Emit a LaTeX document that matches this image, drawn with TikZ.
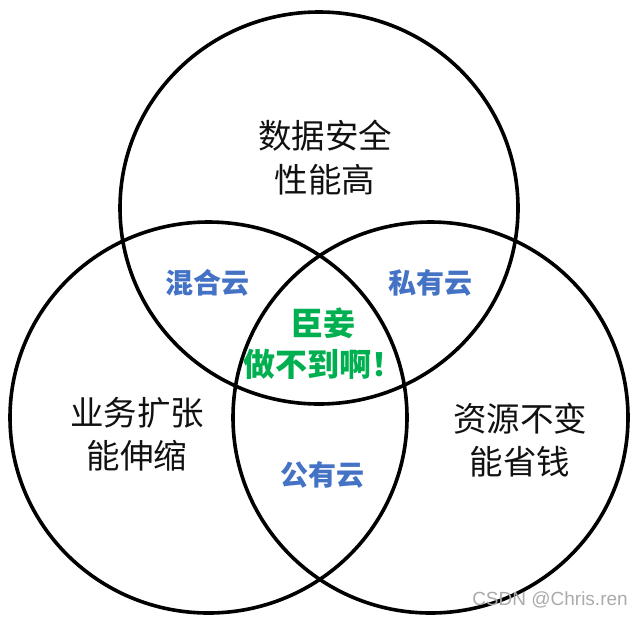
\documentclass[tikz,border=0pt]{standalone}
\usepackage{fontspec}
\setmainfont{Liberation Sans}
\newfontfamily\cjk{Noto Sans CJK SC}
\definecolor{labelblue}{HTML}{4472C4}
\definecolor{labelgreen}{HTML}{00B050}
\definecolor{wmgray}{HTML}{ABABAB}
\definecolor{inkblack}{HTML}{111111}
\tikzset{
  ring/.style={line width=3.6pt, draw=black},
  maintext/.style={inner sep=0pt, align=center, text=inkblack,
    font=\cjk\fontsize{33.5}{43.5}\selectfont},
  pairtext/.style={inner sep=0pt, text=labelblue,
    font=\cjk\bfseries\fontsize{28}{34}\selectfont},
  coretext/.style={inner sep=0pt, align=center, text=labelgreen,
    font=\cjk\bfseries\fontsize{32}{41}\selectfont},
  marktext/.style={inner sep=0pt, text=wmgray, font=\fontsize{19}{22}\selectfont}
}
\begin{document}
\begin{tikzpicture}[x=1pt,y=-1pt]
\useasboundingbox (0,0) rectangle (642,619);
\fill[white] (0,0) rectangle (642,619);
% circles
\draw[ring] (319,208) ellipse [x radius=199, y radius=196];
\draw[ring] (208.5,417.5) ellipse [x radius=198.5, y radius=195.5];
\draw[ring] (430.5,417.5) ellipse [x radius=197.5, y radius=195.5];
% texts
\node[maintext] (security) at (325,157.5) {数据安全\\性能高};
\node[maintext] (scale) at (137,434) {业务扩张\\能伸缩};
\node[maintext] (cost) at (520,440) {资源不变\\能省钱};
\node[pairtext] (hybrid) at (207,283) {混合云};
\node[pairtext] (private) at (430,283) {私有云};
\node[pairtext] (public) at (322,475) {公有云};
\node[coretext] (core) at (323,343.5) {臣妾\\做不到啊！};
\node[marktext] (mark) at (550,600) {CSDN @Chris.ren};
\end{tikzpicture}
\end{document}
